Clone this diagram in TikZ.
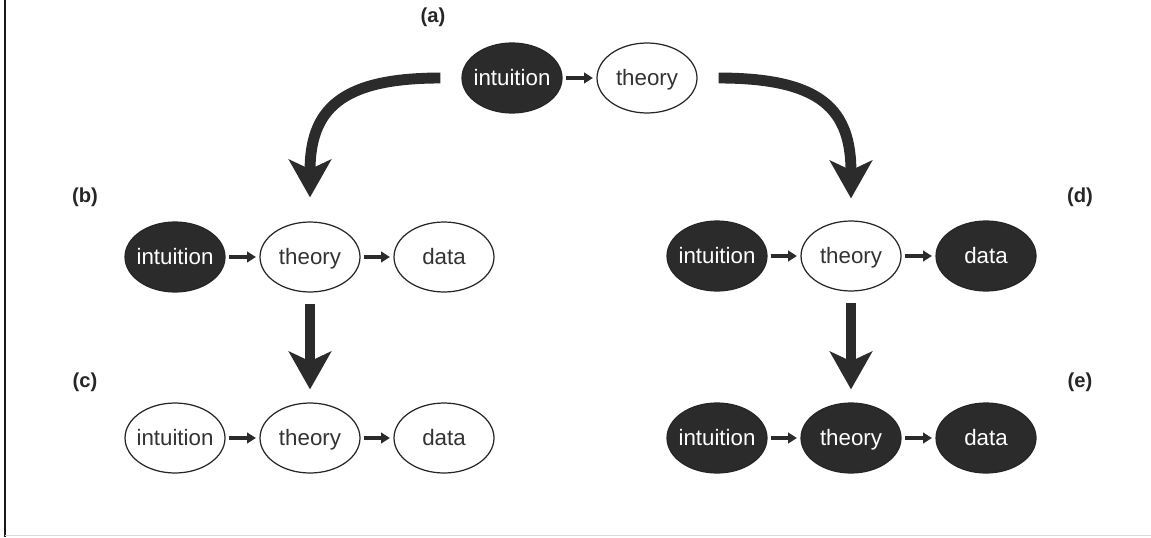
\documentclass[tikz,border=0pt]{standalone}
\usepackage{fontspec}
\setmainfont{Liberation Sans}
\usetikzlibrary{shapes.geometric,arrows.meta}

\begin{document}
\begin{tikzpicture}[x=0.02cm, y=-0.02cm,
      idea/.style={ellipse, draw=black!85, line width=0.7pt, minimum width=2cm, minimum height=1.4cm, inner xsep=-2pt, inner ysep=0pt, text height=10pt, text depth=1.8pt, font=\fontsize{12.7}{15}\selectfont},
      openidea/.style={idea, fill=white, text=black!80},
      filledidea/.style={idea, fill=black!83, text=white},
      link/.style={-{Triangle[length=5pt,width=6pt]}, line width=1.9pt, draw=black!83, shorten <=0.06cm, shorten >=0.07cm},
      bigarrow/.style={-{Stealth[length=21.5pt,width=24pt,inset=5.5pt]}, line width=6.2pt, draw=black!83},
      tag/.style={font=\fontsize{11.5}{13}\selectfont\bfseries, text=black!85}
    ]
      \useasboundingbox (0,0) rectangle (1151,537);
      \draw[line width=1.2pt, black!90] (5,0) -- (5,537);
      \draw[line width=0.6pt, black!15] (5,535.5) -- (1151,535.5);

      % (a)
      \node[tag] (la) at (433,17) {(a)};
      \node[filledidea] (ia) at (512,78) {intuition};
      \node[openidea]   (ta) at (647,78) {theory};
      \draw[link] (ia) -- (ta);

      % (b) and (c)
      \node[tag] (lb) at (85,197) {(b)};
      \node[filledidea] (ib) at (175,257) {intuition};
      \node[openidea]   (tb) at (310,257) {theory};
      \node[openidea]   (db) at (444,257) {data};
      \draw[link] (ib) -- (tb);
      \draw[link] (tb) -- (db);

      \node[tag] (lc) at (85,382) {(c)};
      \node[openidea] (ic) at (175,438) {intuition};
      \node[openidea] (tc) at (310,438) {theory};
      \node[openidea] (dc) at (444,438) {data};
      \draw[link] (ic) -- (tc);
      \draw[link] (tc) -- (dc);

      % (d) and (e)
      \node[tag] (ld) at (1080,197) {(d)};
      \node[filledidea] (id) at (717,256) {intuition};
      \node[openidea]   (td) at (851,256) {theory};
      \node[filledidea] (dd) at (986,256) {data};
      \draw[link] (id) -- (td);
      \draw[link] (td) -- (dd);

      \node[tag] (le) at (1080,382) {(e)};
      \node[filledidea] (ie) at (717,438) {intuition};
      \node[filledidea] (te) at (851,438) {theory};
      \node[filledidea] (de) at (986,438) {data};
      \draw[link] (ie) -- (te);
      \draw[link] (te) -- (de);

      % the big arrows
      \draw[bigarrow, shorten <=0.42cm, shorten >=0.48cm] (ia.west) .. controls (340,78) and (310,110) .. (tb.north);
      \draw[bigarrow, shorten <=0.42cm, shorten >=0.44cm] (ta.east) .. controls (822,78) and (851,110) .. (td.north);
      \draw[bigarrow, shorten <=0.22cm, shorten >=0.26cm] (tb) -- (tc);
      \draw[bigarrow, shorten <=0.22cm, shorten >=0.26cm] (td) -- (te);
    \end{tikzpicture}
\end{document}
